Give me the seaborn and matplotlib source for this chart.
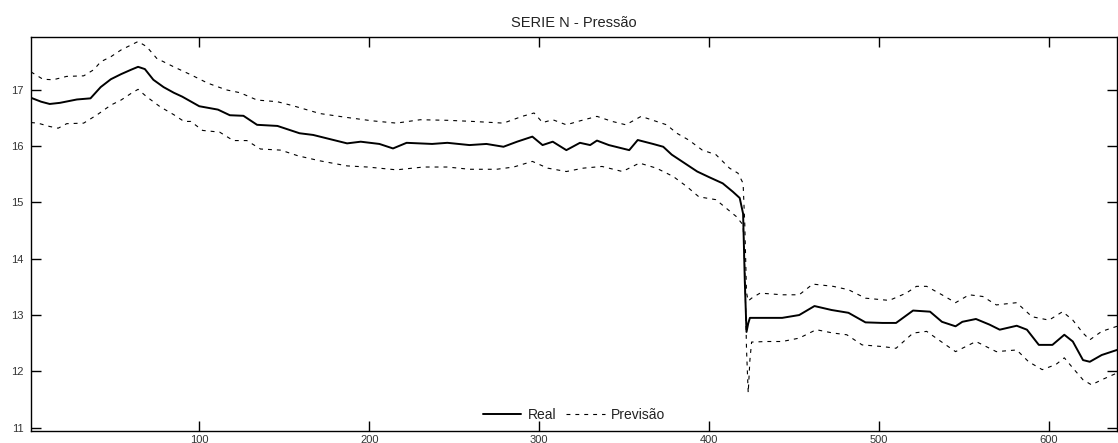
import matplotlib
matplotlib.use("Agg")
import matplotlib.pyplot as plt
import seaborn as sns
import pandas as pd

# ---- data ----
real_x = [1, 7, 12, 18, 28, 36, 42, 48, 54, 60, 64, 68, 73, 79, 85, 90, 100, 111, 118, 126,
          134, 146, 153, 159, 167, 175, 187, 195, 206, 214, 222, 237, 246, 259, 269, 279, 287,
          296, 302, 308, 316, 324, 330, 334, 341, 353, 358, 367, 373, 378, 387, 393, 400, 408,
          414, 418, 420, 421, 422, 423, 424, 434, 443, 453, 462, 472, 482, 492, 502, 510, 520,
          530, 537, 545, 549, 557, 565, 571, 581, 587, 594, 602, 609, 614, 620, 624, 631, 640]
real_y = [16.86, 16.79, 16.75, 16.77, 16.83, 16.85, 17.05, 17.19, 17.28, 17.36, 17.41, 17.37,
          17.18, 17.05, 16.95, 16.88, 16.71, 16.65, 16.55, 16.54, 16.38, 16.36, 16.29, 16.23,
          16.20, 16.14, 16.05, 16.08, 16.04, 15.96, 16.06, 16.04, 16.06, 16.02, 16.04, 15.99,
          16.08, 16.17, 16.02, 16.08, 15.93, 16.06, 16.02, 16.10, 16.02, 15.93, 16.11, 16.04,
          15.99, 15.85, 15.67, 15.55, 15.45, 15.34, 15.19, 15.08, 14.80, 13.60, 12.70, 12.85,
          12.95, 12.95, 12.95, 13.00, 13.16, 13.09, 13.04, 12.87, 12.86, 12.86, 13.08, 13.06,
          12.88, 12.80, 12.88, 12.93, 12.83, 12.74, 12.81, 12.74, 12.47, 12.47, 12.65, 12.53,
          12.20, 12.17, 12.29, 12.38]

upper_x = [1, 8, 14, 22, 32, 38, 42, 48, 54, 60, 64, 69, 75, 85, 95, 105, 116, 124, 134, 146,
           155, 171, 187, 202, 216, 230, 246, 261, 279, 290, 297, 302, 308, 316, 324, 334, 343,
           351, 360, 369, 375, 381, 388, 396, 404, 412, 417, 420, 421, 422, 423, 425, 430, 443,
           453, 461, 473, 482, 492, 506, 516, 522, 528, 537, 545, 553, 561, 569, 581, 590, 600,
           608, 614, 620, 624, 631, 640]
upper_y = [17.32, 17.19, 17.18, 17.24, 17.25, 17.36, 17.50, 17.59, 17.71, 17.80, 17.86, 17.77,
           17.56, 17.41, 17.27, 17.12, 17.00, 16.95, 16.82, 16.79, 16.72, 16.58, 16.51, 16.45,
           16.41, 16.47, 16.46, 16.44, 16.41, 16.53, 16.59, 16.42, 16.47, 16.38, 16.45, 16.53,
           16.44, 16.38, 16.53, 16.44, 16.38, 16.23, 16.11, 15.93, 15.85, 15.61, 15.52, 15.34,
           14.60, 13.40, 13.25, 13.30, 13.39, 13.36, 13.36, 13.55, 13.51, 13.45, 13.30, 13.26,
           13.39, 13.51, 13.51, 13.36, 13.22, 13.36, 13.33, 13.18, 13.22, 12.97, 12.91, 13.06,
           12.91, 12.68, 12.56, 12.71, 12.80]

lower_x = [1, 5, 12, 17, 22, 32, 40, 48, 54, 60, 64, 69, 77, 85, 91, 95, 102, 112, 120, 128,
           136, 148, 158, 171, 187, 199, 216, 232, 246, 259, 275, 285, 296, 305, 316, 326, 337,
           349, 359, 369, 379, 387, 394, 404, 410, 416, 420, 421, 422, 423, 424, 425, 434, 443,
           453, 463, 473, 481, 490, 502, 510, 520, 528, 535, 545, 557, 569, 581, 588, 596, 604,
           609, 614, 620, 625, 631, 640]
lower_y = [16.42, 16.41, 16.35, 16.32, 16.40, 16.41, 16.56, 16.73, 16.82, 16.94, 17.01, 16.88,
           16.70, 16.56, 16.44, 16.44, 16.28, 16.25, 16.10, 16.10, 15.95, 15.93, 15.83, 15.74,
           15.65, 15.63, 15.58, 15.63, 15.63, 15.59, 15.59, 15.63, 15.73, 15.61, 15.55, 15.61,
           15.64, 15.55, 15.70, 15.61, 15.46, 15.28, 15.10, 15.05, 14.90, 14.75, 14.60, 13.80,
           12.40, 11.62, 12.20, 12.52, 12.53, 12.53, 12.59, 12.74, 12.68, 12.65, 12.47, 12.44,
           12.41, 12.68, 12.71, 12.56, 12.35, 12.53, 12.35, 12.38, 12.17, 12.03, 12.12, 12.24,
           12.06, 11.85, 11.76, 11.85, 11.97]

title = "SERIE N - Pressão"
series_labels = ["Real", "Previsão"]
x_ticks = [100, 200, 300, 400, 500, 600]
y_ticks = [11, 12, 13, 14, 15, 16, 17]

# ---- style ----
sns.set_theme(style="ticks")
plt.rcParams["font.family"] = ["Liberation Sans", "DejaVu Sans"]
plt.rcParams["axes.linewidth"] = 1.0
plt.rcParams["axes.edgecolor"] = "black"

fig = plt.figure(figsize=(11.18, 4.43), dpi=100)
ax = fig.add_axes([31 / 1118, 12 / 443, 1086 / 1118, 394 / 443])

df_real = pd.DataFrame({"x": real_x, "y": real_y})
df_up = pd.DataFrame({"x": upper_x, "y": upper_y})
df_lo = pd.DataFrame({"x": lower_x, "y": lower_y})

sns.lineplot(data=df_real, x="x", y="y", ax=ax, color="black", linewidth=1.4,
             estimator=None, sort=False, label=series_labels[0])
sns.lineplot(data=df_up, x="x", y="y", ax=ax, color="black", linewidth=0.8,
             estimator=None, sort=False, label=series_labels[1])
sns.lineplot(data=df_lo, x="x", y="y", ax=ax, color="black", linewidth=0.8,
             estimator=None, sort=False)
for ln in ax.lines[1:]:
    ln.set_linestyle((0, (3.5, 4.5)))

ax.set_xlim(1, 640)
ax.set_ylim(10.94, 17.94)
ax.set_xticks(x_ticks)
ax.set_yticks(y_ticks)
ax.set_xlabel("")
ax.set_ylabel("")
ax.tick_params(direction="in", length=7.5, width=1.0, top=True, right=True,
               labelsize=8, colors="black", labelcolor="#333333")
ax.tick_params(axis="y", pad=5.5)
ax.tick_params(axis="x", pad=3)
for s in ax.spines.values():
    s.set_visible(True)
    s.set_color("black")
    s.set_linewidth(1.0)

ax.set_title(title, fontsize=10.5, color="#222222", pad=7)

handles, labels = ax.get_legend_handles_labels()
leg = ax.legend(handles, labels, loc="center", bbox_to_anchor=(0.5, 0.04), ncol=2,
                frameon=False, fontsize=10, handlelength=2.8, handletextpad=0.45,
                columnspacing=0.7, borderpad=0.1)
for t in leg.get_texts():
    t.set_color("#222222")

fig.savefig("out.png", dpi=100)
